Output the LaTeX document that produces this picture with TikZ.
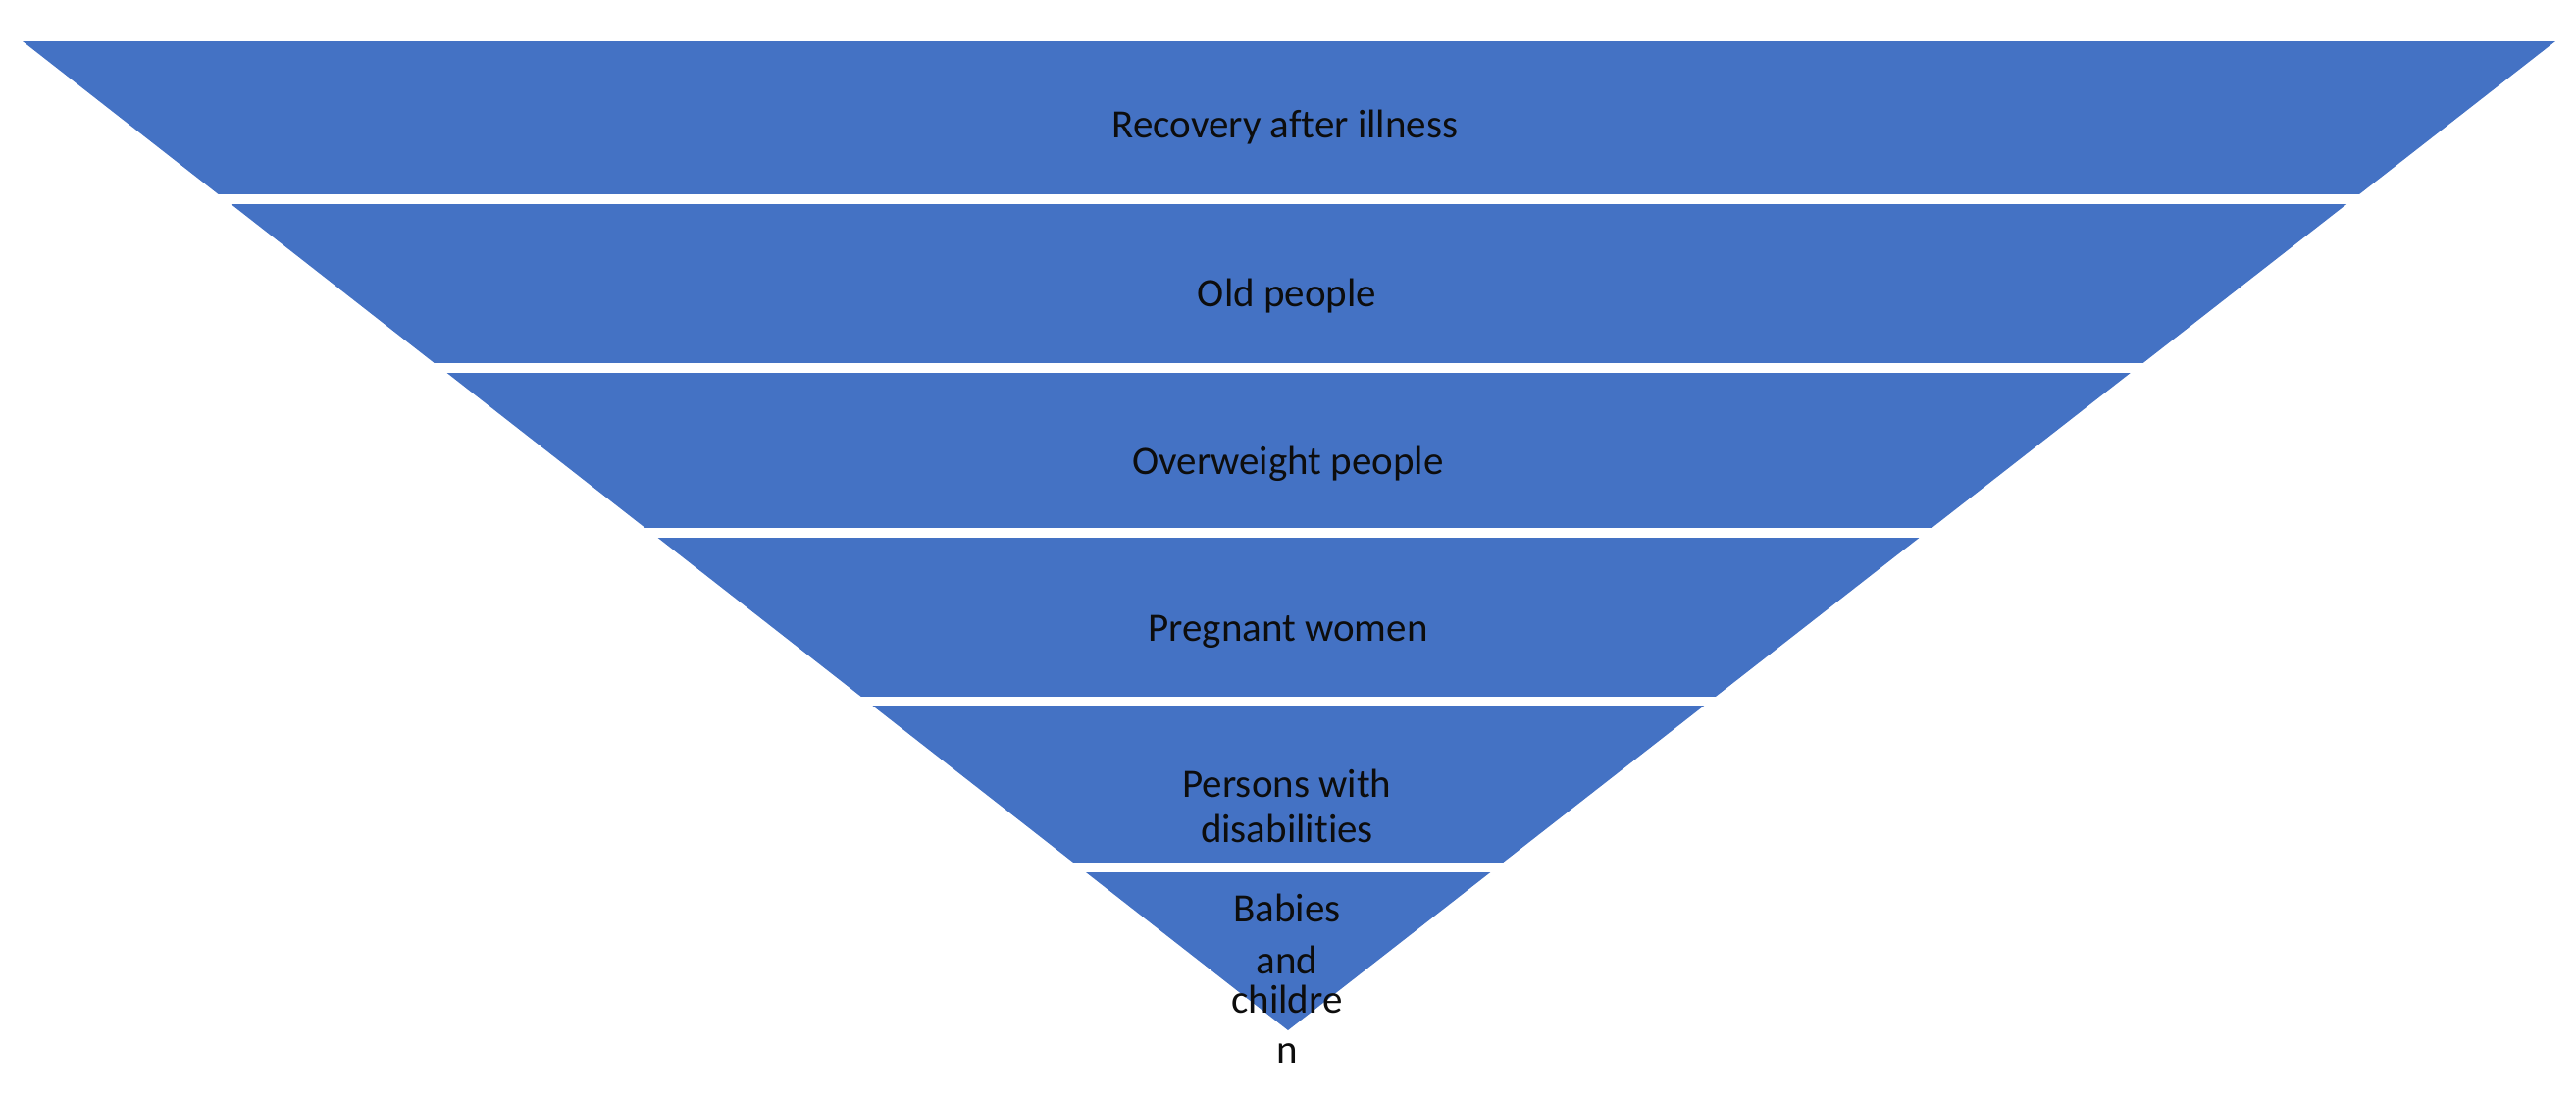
\documentclass[tikz,border=0pt]{standalone}
\usepackage{fontspec}
\setmainfont[Ligatures=NoCommon]{Carlito}
\definecolor{bandblue}{HTML}{4472C4}
\definecolor{labeltext}{HTML}{0D0D0D}
\tikzset{
  lbl/.style={font=\fontsize{41}{46}\selectfont, text=labeltext, inner sep=0pt, anchor=base, align=center},
}
\begin{document}
\begin{tikzpicture}[x=1pt,y=-1pt]
\useasboundingbox (0,0) rectangle (2626,1120);
% triangle
\coordinate (tl) at (23,42);
\coordinate (tr) at (2605,42);
\coordinate (apex) at (1313,1050);
\fill[bandblue] (tl) -- (tr) -- (apex) -- cycle;
% white gaps between bands
\foreach \a/\b in {198/208, 370/380, 538/548, 710/719, 879/889}{
  \fill[white] (0,\a) rectangle (2626,\b);
}
% labels
\node[lbl] (l1) at (1310,140) {Recovery after illness};
\node[lbl] (l2) at (1312,312) {Old people};
\node[lbl] (l3) at (1313,483) {Overweight people};
\node[lbl] (l4) at (1313,653) {Pregnant women};
\node[lbl] (l5a) at (1312,812) {Persons with};
\node[lbl] (l5b) at (1312,858) {disabilities};
\node[lbl] (l6a) at (1312,939) {Babies};
\node[lbl] (l6b) at (1312,992) {and};
\node[lbl] (l6c) at (1312,1032) {childre};
\node[lbl] (l6d) at (1312,1083) {n};
\end{tikzpicture}
\end{document}
